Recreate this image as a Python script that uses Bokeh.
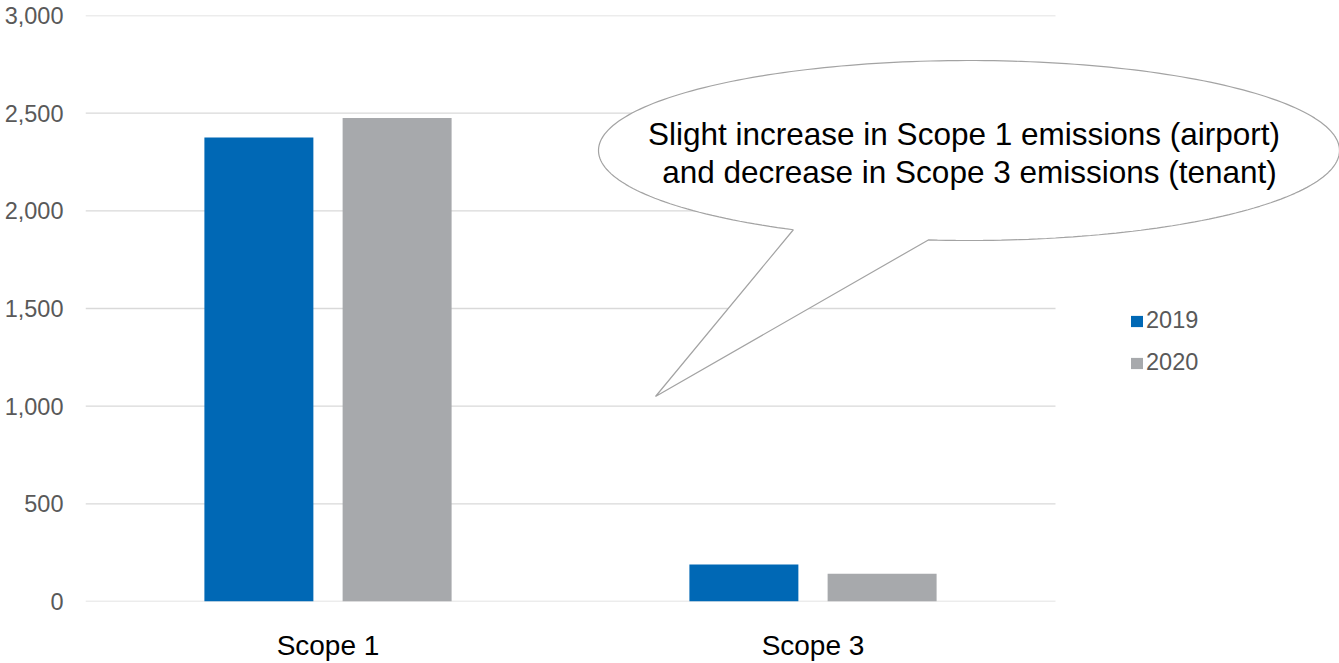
import numpy as np
from bokeh.plotting import figure
from bokeh.models import Range1d, FixedTicker, NumeralTickFormatter, Legend, LegendItem
from bokeh.core.properties import value
from bokeh.embed import file_html
from bokeh.resources import INLINE

# ---- data -------------------------------------------------------------
categories = ["Scope 1", "Scope 3"]
years = ["2019", "2020"]
values_2019 = [2375, 190]
values_2020 = [2475, 142]
y_ticks = [0, 500, 1000, 1500, 2000, 2500, 3000]
callout_lines = [
    "Slight increase in Scope 1 emissions (airport)",
    "and decrease in Scope 3 emissions (tenant)",
]

# ---- style ------------------------------------------------------------
FONT = "Liberation Sans"
BLUE = "#0068B5"
GRAY = "#A7A9AC"
GRID = "#D9D9D9"
OUTLINE = "#A3A3A3"
TICK_TEXT = "#595959"

# ---- layout (pixels) --------------------------------------------------
PLOT_W, PLOT_H = 1339, 663
LEFT, TOP, BOTTOM = 85, 15, 62
SLOT_PX = 485                      # width of one category slot
n = len(categories)
x_end = (PLOT_W - LEFT) / SLOT_PX  # frame runs to the right edge so the callout fits
y_max = y_ticks[-1]
frame_h = PLOT_H - TOP - BOTTOM


def sx(px):
    return (px - LEFT) / SLOT_PX


def sy(py):
    return (PLOT_H - BOTTOM - py) * y_max / frame_h


p = figure(
    width=PLOT_W, height=PLOT_H,
    x_range=Range1d(0, x_end), y_range=Range1d(0, y_max),
    output_backend="svg", toolbar_location=None,
    min_border_left=LEFT, min_border_right=0,
    min_border_top=TOP, min_border_bottom=BOTTOM,
)
p.outline_line_color = None
p.xgrid.visible = False
p.ygrid.visible = False
p.background_fill_color = "white"
p.border_fill_color = "white"

# horizontal gridlines only across the category area
p.segment(x0=[0] * len(y_ticks), x1=[n] * len(y_ticks), y0=y_ticks, y1=y_ticks,
          line_color=GRID, line_width=1.3)

# ---- bars -------------------------------------------------------------
centers = np.arange(n) + 0.5
offset = 0.1425
bar_w = 0.2247
r19 = p.vbar(x=centers - offset, top=values_2019, width=bar_w,
             fill_color=BLUE, line_color=None)
r20 = p.vbar(x=centers + offset, top=values_2020, width=bar_w,
             fill_color=GRAY, line_color=None)

# ---- axes -------------------------------------------------------------
for ax in (p.xaxis, p.yaxis):
    ax.axis_line_color = None
    ax.major_tick_line_color = None
    ax.minor_tick_line_color = None
    ax.major_tick_out = 0
    ax.major_tick_in = 0
    ax.minor_tick_out = 0
    ax.minor_tick_in = 0
    ax.major_label_text_font = FONT

p.yaxis.ticker = FixedTicker(ticks=y_ticks)
p.yaxis.formatter = NumeralTickFormatter(format="0,0")
p.yaxis.major_label_standoff = 22
p.yaxis.major_label_text_font_size = "23.5px"
p.yaxis.major_label_text_color = TICK_TEXT

p.xaxis.ticker = FixedTicker(ticks=list(centers))
p.xaxis.major_label_overrides = {float(c): cat for c, cat in zip(centers, categories)}
p.xaxis.major_label_standoff = 28
p.xaxis.major_label_text_font_size = "28px"
p.xaxis.major_label_text_color = "black"

# ---- speech-bubble callout --------------------------------------------
cx, cy, ax_, by_ = 968.5, 150.0, 370.5, 90.0      # ellipse, pixels
tip = (655.0, 396.0)
t_start = np.deg2rad(-96.3)
t_stop = np.deg2rad(241.7)
t = np.linspace(t_start, t_stop, 240)
ex = cx + ax_ * np.cos(t)
ey = cy - by_ * np.sin(t)
bx = list(sx(ex)) + [sx(tip[0])]
by = list(sy(ey)) + [sy(tip[1])]
p.patch(bx, by, fill_color="white", line_color=OUTLINE, line_width=1.2)

p.text(x=[sx(963.5), sx(969.0)], y=[sy(133.0), sy(171.0)], text=callout_lines,
       text_font=value(FONT), text_font_size="31.5px", text_color="black",
       text_align="center", text_baseline="alphabetic")

# ---- legend -----------------------------------------------------------
legend = Legend(
    items=[LegendItem(label=years[0], renderers=[r19]),
           LegendItem(label=years[1], renderers=[r20])],
    location=(1044, 225),
    glyph_width=15, glyph_height=14,
    label_standoff=2, spacing=15,
    padding=0, margin=0,
    border_line_color=None, background_fill_alpha=0,
    label_text_font=FONT, label_text_font_size="23.5px",
    label_text_color=TICK_TEXT,
)
p.add_layout(legend)

open("out.html", "w").write(file_html(p, INLINE))
